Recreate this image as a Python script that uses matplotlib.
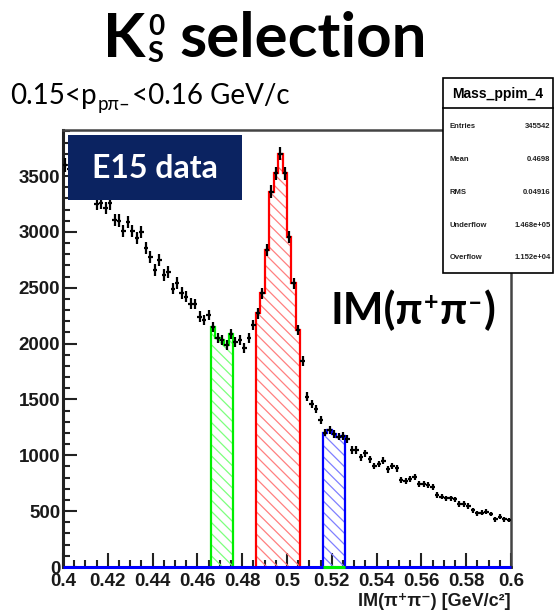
import numpy as np
import matplotlib
matplotlib.use("Agg")
import matplotlib.pyplot as plt
from matplotlib.patches import Rectangle
from matplotlib.lines import Line2D
from matplotlib.ticker import MultipleLocator, FixedLocator, FixedFormatter

# ---------------------------------------------------------------- data
x_min, x_max = 0.4, 0.6
counts = [
    3600, 3560, 3510, 3460, 3410, 3370, 3340, 3250, 3260, 3215,
    3255, 3105, 3100, 3010, 3090, 3010, 2945, 3000, 2856, 2775,
    2660, 2748, 2614, 2641, 2490, 2542, 2453, 2420, 2357, 2355,
    2240, 2211, 2256, 2151, 2047, 2032, 1985, 2086, 2017, 2032,
    1960, 2050, 2165, 2270, 2450, 2838, 3360, 3524, 3700, 3524,
    2957, 2540, 2122, 1845, 1525, 1459, 1412, 1316, 1204, 1227,
    1191, 1167, 1173, 1146, 1047, 1047, 982, 1018, 964, 904,
    922, 952, 875, 904, 883, 779, 773, 785, 803, 743,
    743, 734, 713, 645, 630, 615, 615, 606, 564, 564,
    546, 510, 480, 486, 495, 474, 426, 450, 426, 420,
]
# mass windows: sideband low, signal, sideband high
window_low = (0.466, 0.476)
window_signal = (0.486, 0.506)
window_high = (0.516, 0.526)

x_tick_values = [0.40, 0.42, 0.44, 0.46, 0.48, 0.50, 0.52, 0.54, 0.56, 0.58, 0.60]
x_tick_labels = ["0.4", "0.42", "0.44", "0.46", "0.48", "0.5", "0.52", "0.54", "0.56", "0.58", "0.6"]
y_tick_values = [0, 500, 1000, 1500, 2000, 2500, 3000, 3500]
y_tick_labels = ["0", "500", "1000", "1500", "2000", "2500", "3000", "3500"]

stats_title = "Mass_ppim_4"
stats_names = ["Entries", "Mean", "RMS", "Underflow", "Overflow"]
stats_values = ["345542", "0.4698", "0.04916", "1.468e+05", "1.152e+04"]

# ---------------------------------------------------------------- figure
W, H = 555, 614
fig = plt.figure(figsize=(W / 100, H / 100), dpi=100)
fig.patch.set_facecolor("white")

def fx(px):
    return px / W

def fy(py):
    return 1 - py / H

ax = fig.add_axes([fx(63), fy(567), fx(511) - fx(63), fy(130) - fy(567)])

counts = np.asarray(counts, dtype=float)
edges = np.linspace(x_min, x_max, len(counts) + 1)
centers = 0.5 * (edges[:-1] + edges[1:])
half_w = 0.5 * (edges[1] - edges[0])

def window_hist(lo, hi):
    sel = (centers > lo) & (centers < hi)
    return counts[sel], edges[np.r_[sel, False] | np.r_[False, sel]]

plt.rcParams["hatch.linewidth"] = 0.9

# hatched windows
for (lo, hi), line_c, hatch_c in [
    (window_low, "#00ee00", "#7dff7d"),
    (window_signal, "#ff0000", "#ff8080"),
    (window_high, "#0000ff", "#8080ff"),
]:
    vals, e = window_hist(lo, hi)
    ax.stairs(vals, e, baseline=0, fill=True, facecolor="none",
              edgecolor=hatch_c, hatch="\\\\\\", linewidth=0, zorder=2)
    ax.stairs(vals, e, baseline=0, fill=False, color=line_c,
              linewidth=1.6, zorder=3)

# data points with statistical errors
ax.errorbar(centers, counts, yerr=np.sqrt(counts), xerr=half_w, fmt="none",
            ecolor="black", elinewidth=1.6, capsize=0, zorder=4)

# zero lines of the window histograms along the axis
ax.plot([x_min, x_max], [0, 0], color="#0000ff", lw=2.2, zorder=5, clip_on=False,
        solid_capstyle="butt")
ax.plot(list(window_high), [0, 0], color="#00ee00", lw=2.2, zorder=5, clip_on=False,
        solid_capstyle="butt")

ax.set_xlim(x_min, x_max)
ax.set_ylim(0, 3912)

ax.xaxis.set_major_locator(FixedLocator(x_tick_values))
ax.xaxis.set_major_formatter(FixedFormatter(x_tick_labels))
ax.xaxis.set_minor_locator(MultipleLocator(0.005))
ax.yaxis.set_major_locator(FixedLocator(y_tick_values))
ax.yaxis.set_major_formatter(FixedFormatter(y_tick_labels))
ax.yaxis.set_minor_locator(MultipleLocator(100))

ax.tick_params(which="major", direction="in", length=10, width=1.5,
               color="#222222", top=False, right=False)
ax.tick_params(which="minor", direction="in", length=5, width=1.5,
               color="#222222", top=False, right=False)
ax.tick_params(axis="x", which="major", pad=4)
ax.tick_params(axis="y", which="major", pad=2)
for lab in ax.get_xticklabels() + ax.get_yticklabels():
    lab.set_fontfamily("Liberation Sans")
    lab.set_fontweight("bold")
    lab.set_fontsize(13.5)
    lab.set_color("#1a1a1a")

ax.spines["left"].set_linewidth(2.2)
ax.spines["left"].set_color("#222222")
ax.spines["bottom"].set_linewidth(2.0)
ax.spines["bottom"].set_color("#222222")
for s in ("top", "right"):
    ax.spines[s].set_linewidth(1.8)
    ax.spines[s].set_color("#444444")

# axis title
fig.text(fx(511), fy(601), "IM(π⁺π⁻) [GeV/c²]", ha="right", va="center",
         family=["Liberation Sans", "DejaVu Sans"], weight="bold", size=13,
         color="#1a1a1a")

# ---------------------------------------------------------------- annotations
renderer = fig.canvas.get_renderer()

def text_run(x_px, base_px, pieces, family, color="black"):
    """Place text chunks left to right; each chunk: (text, size, dy, weight, gap)."""
    x = x_px
    for s, size, dy, weight, gap in pieces:
        t = fig.text(fx(x), fy(base_px + dy), s, ha="left", va="baseline",
                     family=family, weight=weight, size=size, color=color)
        bb = t.get_window_extent(renderer)
        x = bb.x1 + gap
    return x

fam = ["Lato", "DejaVu Sans"]

# title: K0S selection
xk = text_run(103, 57, [("K", 44.5, 0, "bold", 3)], fam)
t0 = fig.text(fx(xk), fy(35), "0", ha="left", va="baseline", family=fam,
              weight="bold", size=20)
tS = fig.text(fx(xk - 1), fy(62), "S", ha="left", va="baseline", family=fam,
              weight="bold", size=21)
x_after = max(t0.get_window_extent(renderer).x1, tS.get_window_extent(renderer).x1)
fig.text(fx(x_after + 15), fy(57), "selection", ha="left", va="baseline",
         family=fam, weight="bold", size=44.5)

# momentum bin
text_run(10, 104, [
    ("0.15<p", 20, 0, "normal", 1),
    ("pπ–", 13.5, 6, "normal", 1),
    ("<0.16 GeV/c", 20, 0, "normal", 0),
], fam)

# IM(pi+ pi-) label
text_run(330, 324, [
    ("IM(π", 31, 0, "bold", 1),
    ("+", 18, -14, "bold", 1),
    ("π", 31, 0, "bold", 1),
    ("–", 18, -14, "bold", 2),
    (")", 31, 0, "bold", 0),
], fam)

# E15 data label
fig.add_artist(Rectangle((fx(68), fy(200)), fx(242) - fx(68), fy(135) - fy(200),
                         transform=fig.transFigure, facecolor="#0b2361",
                         edgecolor="none", zorder=10))
fig.text(fx(155), fy(168), "E15 data", ha="center", va="center", family=fam,
         weight="bold", size=23, color="white", zorder=11)

# statistics box
bx0, bx1, by0, by1, bsep = 443, 553, 78, 273, 108
fig.add_artist(Rectangle((fx(bx0), fy(by1)), fx(bx1) - fx(bx0), fy(by0) - fy(by1),
                         transform=fig.transFigure, facecolor="white",
                         edgecolor="black", linewidth=1.2, zorder=10))
fig.add_artist(Line2D([fx(bx0), fx(bx1)], [fy(bsep), fy(bsep)],
                      transform=fig.transFigure, color="black", lw=1.2, zorder=11))
fig.text(fx(498), fy(94), stats_title, ha="center", va="center",
         family="Liberation Sans", weight="bold", size=10, zorder=12)
for i, (name, val) in enumerate(zip(stats_names, stats_values)):
    yy = 127 + i * 32.7
    fig.text(fx(450), fy(yy), name, ha="left", va="center",
             family="Liberation Sans", weight="bold", size=5.5, color="#222222", zorder=12)
    fig.text(fx(550.5), fy(yy), val, ha="right", va="center",
             family="Liberation Sans", weight="bold", size=5.5, color="#222222", zorder=12)

fig.savefig("out.png", dpi=100)
